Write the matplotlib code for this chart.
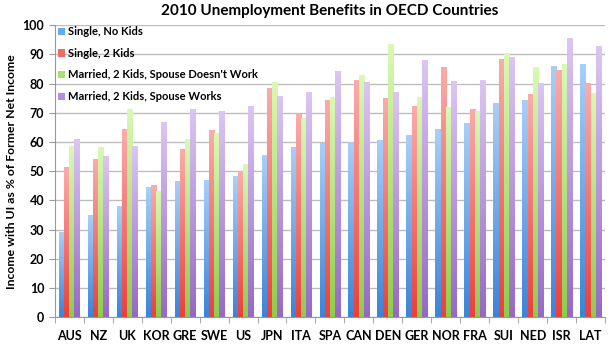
import numpy as np
import matplotlib
matplotlib.use("Agg")
import matplotlib.pyplot as plt
from matplotlib.colors import LinearSegmentedColormap
from matplotlib.patches import Patch

plt.rcParams['font.family'] = ['Lato', 'DejaVu Sans']

paises = ["AUS", "NZ", "UK", "KOR", "GRE", "SWE", "US", "JPN", "ITA", "SPA",
          "CAN", "DEN", "GER", "NOR", "FRA", "SUI", "NED", "ISR", "LAT"]

soltero_sin_hijos = [28.8, 34.9, 37.9, 44.3, 46.5, 46.9, 48.0, 55.4, 58.1, 59.4,
                     59.7, 60.6, 62.3, 64.3, 66.4, 73.0, 74.2, 85.9, 86.6]
soltero_2_hijos = [51.1, 53.9, 64.2, 45.1, 57.5, 63.9, 49.7, 78.4, 69.6, 74.3,
                   80.9, 74.9, 72.2, 85.6, 70.9, 88.1, 76.2, 84.3, 79.9]
casado_conyuge_no_trabaja = [58.3, 58.1, 71.1, 43.1, 60.7, 62.9, 52.2, 80.3, 67.9, 75.0,
                             82.7, 93.4, 75.3, 71.7, 70.2, 90.1, 85.3, 86.5, 76.6]
casado_conyuge_trabaja = [60.8, 55.1, 58.3, 66.6, 71.2, 70.3, 72.0, 75.6, 76.7, 84.0,
                          80.4, 76.9, 87.7, 80.8, 81.0, 89.0, 79.9, 95.2, 92.7]

series = [
    ("Single, No Kids", soltero_sin_hijos, "#3a84d8", "#a9cff7", "#6aa8ec"),
    ("Single, 2 Kids", soltero_2_hijos, "#ec3f3a", "#fbacaa", "#f06a68"),
    ("Married, 2 Kids, Spouse Doesn't Work", casado_conyuge_no_trabaja, "#8fcc4c", "#d9f9b4", "#a8e070"),
    ("Married, 2 Kids, Spouse Works", casado_conyuge_trabaja, "#9668c6", "#dcc6f2", "#b08ee0"),
]

fig = plt.figure(figsize=(6.15, 3.44), dpi=100)
ax = fig.add_axes([0.089, 0.078, 0.895, 0.849])

x = np.arange(len(paises))
ancho = 0.18
grad = np.linspace(0, 1, 256).reshape(-1, 1)

for i, (nombre, valores, c_bajo, c_alto, c_leg) in enumerate(series):
    cmap = LinearSegmentedColormap.from_list(nombre, [c_bajo, c_alto])
    pos = x + (i - 1.5) * ancho
    barras = ax.bar(pos, valores, width=ancho, color="none", edgecolor="none", zorder=2)
    # degradado vertical dentro de cada barra
    for b in barras:
        x0 = b.get_x()
        h = b.get_height()
        ax.imshow(grad, extent=[x0, x0 + b.get_width(), 0, h], origin="lower",
                  aspect="auto", cmap=cmap, zorder=2)

ax.set_xlim(-0.5, len(paises) - 0.5)
ax.set_ylim(0, 100)
ax.set_yticks(range(0, 101, 10))
ax.set_xticks(x)
ax.set_xticklabels(paises, fontweight="bold", fontsize=9)
ax.set_xticks(np.arange(-0.5, len(paises), 1), minor=True)
ax.tick_params(axis="x", which="major", length=0, pad=9)
ax.tick_params(axis="x", which="minor", length=4, color="#999999")
ax.tick_params(axis="y", length=4, color="#999999", labelsize=9)
for lbl in ax.get_yticklabels():
    lbl.set_fontweight("bold")

ax.grid(axis="y", color="#bdbdbd", linewidth=1, zorder=0)
ax.set_axisbelow(True)
for lado in ["top", "right"]:
    ax.spines[lado].set_visible(False)
ax.spines["left"].set_color("#999999")
ax.spines["bottom"].set_color("#999999")

ax.set_ylabel("Income with UI as % of Former Net Income", fontweight="bold", fontsize=8.8)
ax.set_title("2010 Unemployment Benefits in OECD Countries", fontweight="bold", fontsize=11, pad=7)

handles = [Patch(facecolor=s[4], edgecolor="none") for s in series]
ax.legend(handles, [s[0] for s in series], loc="upper left", bbox_to_anchor=(-0.012, 1.03),
          frameon=False, prop={"weight": "bold", "size": 8}, handlelength=0.6,
          handleheight=0.6, handletextpad=0.3, labelspacing=0.95)

fig.savefig("out.png", dpi=100)
